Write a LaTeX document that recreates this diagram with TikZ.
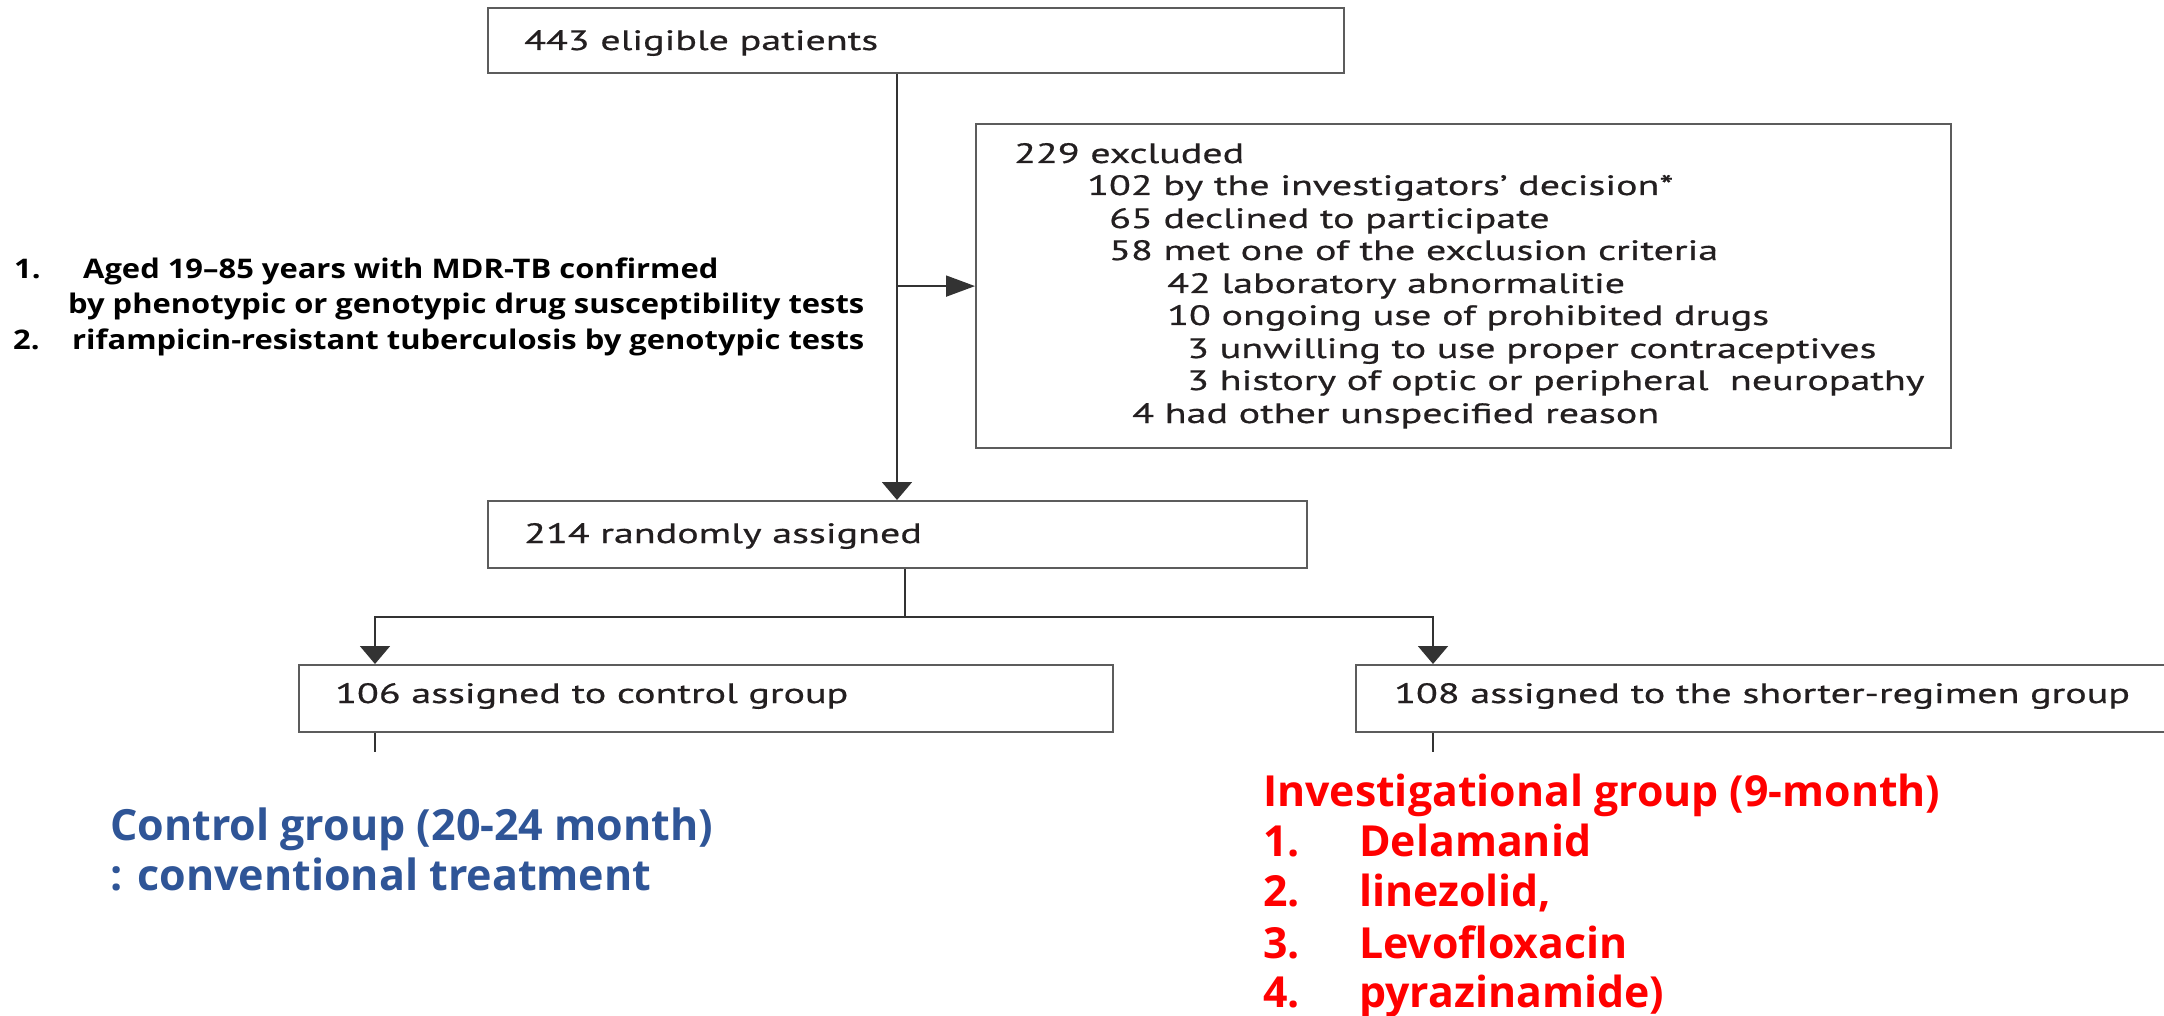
\documentclass[tikz,border=0pt]{standalone}
\usepackage{fontspec}
\usetikzlibrary{arrows.meta}
% box text: a humanist sans set wide; notes: a bold sans
\newfontfamily\flowfont[FakeStretch=1.43,FakeBold=0.6]{PT Sans}
\newfontfamily\notefont[FakeStretch=1.145]{Open Sans}
\newfontfamily\groupfont{Open Sans}
\definecolor{inktext}{HTML}{231F20}
\definecolor{boxline}{HTML}{5C5C5C}
\definecolor{connline}{HTML}{333333}
\definecolor{ctlblue}{HTML}{2F5597}
\definecolor{invred}{HTML}{FF0000}
\tikzset{
  flowbox/.style={draw=boxline, line width=2.2pt, rectangle, anchor=north west, inner sep=0pt},
  boxtxt/.style={anchor=base west, inner sep=0pt, text=inktext, font=\flowfont\fontsize{28}{32}\selectfont},
  notetxt/.style={anchor=base west, inner sep=0pt, text=black, font=\notefont\bfseries\fontsize{27}{32}\selectfont},
  ctltxt/.style={anchor=base west, inner sep=0pt, text=ctlblue, font=\groupfont\bfseries\fontsize{43}{50}\selectfont},
  invtxt/.style={anchor=base west, inner sep=0pt, text=invred, font=\groupfont\bfseries\fontsize{42.8}{50}\selectfont},
  conn/.style={draw=connline, line width=1.8pt},
  arrdown/.style={conn, -{Triangle[length=18pt,width=30pt]}},
  arrright/.style={conn, -{Triangle[length=29pt,width=21pt]}}
}
\begin{document}
\begin{tikzpicture}[x=1pt,y=-1pt]
\useasboundingbox (0,0) rectangle (2164,1016);
\clip (0,0) rectangle (2164,1016);
\fill[white] (0,0) rectangle (2164,1016);

% flow boxes
\node[flowbox, minimum width=856pt, minimum height=65pt] (n443) at (487,7) {};
\node[flowbox, minimum width=975pt, minimum height=324pt] (excl) at (975,123) {};
\node[flowbox, minimum width=819pt, minimum height=67pt] (n214) at (487,500) {};
\node[flowbox, minimum width=814pt, minimum height=67pt] (n106) at (298,664) {};
\node[flowbox, minimum width=830pt, minimum height=67pt] (n108) at (1355,664) {};

% box texts
\node[boxtxt] (t443) at (524,50) {443 eligible patients};
\node[boxtxt] (t214) at (524,543) {214 randomly assigned};
\node[boxtxt] (t106) at (335,703) {106 assigned to control group};
\node[boxtxt] (t108) at (1394,703) {108 assigned to the shorter-regimen group};

\node[boxtxt] (x1) at (1014,163) {229 excluded};
\node[boxtxt] (x2) at (1087,195) {102 by the investigators’ decision*};
\node[boxtxt] (x3) at (1109,228) {65 declined to participate};
\node[boxtxt] (x4) at (1109,260) {58 met one of the exclusion criteria};
\node[boxtxt] (x5) at (1167,293) {42 laboratory abnormalitie};
\node[boxtxt] (x6) at (1167,325) {10 ongoing use of prohibited drugs};
\node[boxtxt] (x7) at (1187,358) {3 unwilling to use proper contraceptives};
\node[boxtxt] (x8) at (1187,390) {3 history of optic or peripheral\ \ neuropathy};
\node[boxtxt] (x9) at (1132,423) {4 had other unspecified reason};

% connector routing points
\coordinate (spine) at (897,0);
\coordinate (fork) at (905,617);
\coordinate (c106) at (375,0);
\coordinate (c108) at (1433,0);
\coordinate (s106) at (375,752);
\coordinate (s108) at (1433,752);

% connectors
\draw[arrdown] (n443.south -| spine) -- (n214.north -| spine);
\draw[arrright] (spine |- excl.west) -- (excl.west);
\draw[conn] (n214.south -| fork) -- (fork);
\draw[arrdown] (fork) -| (n106.north -| c106);
\draw[arrdown] (fork) -| (n108.north -| c108);
\draw[conn] (n106.south -| s106) -- (s106);
\draw[conn] (n108.south -| s108) -- (s108);

% inclusion criteria
\node[notetxt] (i1n) at (14,279) {1.};
\node[notetxt] (i1a) at (83,279) {Aged 19–85 years with MDR-TB confirmed};
\node[notetxt] (i1b) at (68,314) {by phenotypic or genotypic drug susceptibility tests};
\node[notetxt] (i2n) at (13,349) {2.};
\node[notetxt] (i2a) at (72,349) {rifampicin-resistant tuberculosis by genotypic tests};

% control group
\node[ctltxt] (g1) at (110,840) {Control group (20-24 month)};
\node[ctltxt] (g2) at (110,890) {: conventional treatment};

% investigational group
\node[invtxt] (v0) at (1263,806) {Investigational group (9-month)};
\node[invtxt] (v1n) at (1263,856) {1.};
\node[invtxt] (v1) at (1359,856) {Delamanid};
\node[invtxt] (v2n) at (1263,906) {2.};
\node[invtxt] (v2) at (1359,906) {linezolid,};
\node[invtxt] (v3n) at (1263,958) {3.};
\node[invtxt] (v3) at (1359,958) {Levofloxacin};
\node[invtxt] (v4n) at (1263,1007) {4.};
\node[invtxt] (v4) at (1359,1007) {pyrazinamide)};
\end{tikzpicture}
\end{document}
